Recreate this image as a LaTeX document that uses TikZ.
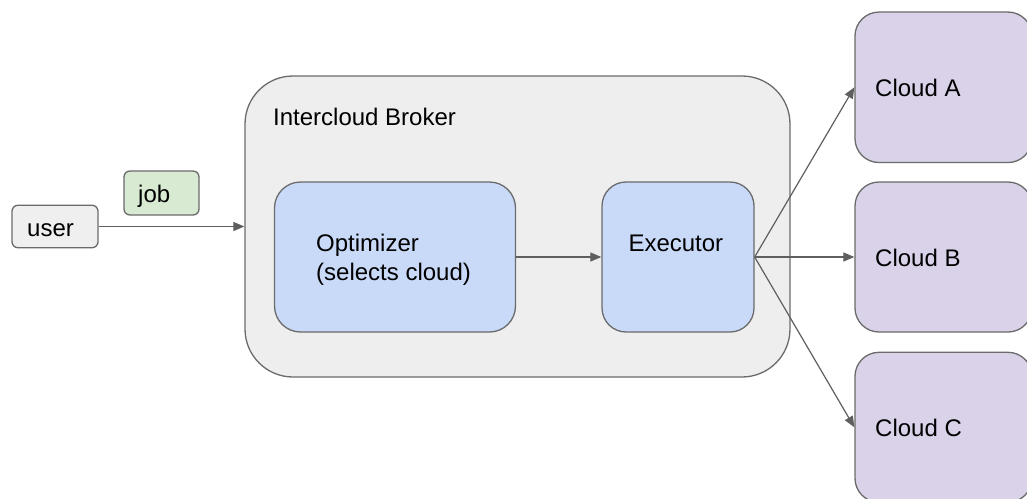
\documentclass[tikz,border=0pt]{standalone}
\usepackage{fontspec}
\setmainfont{Liberation Sans}
\usetikzlibrary{arrows.meta}
\definecolor{strokegray}{HTML}{6B6B6B}
\definecolor{linegray}{HTML}{5F5F5F}
\definecolor{userfill}{HTML}{EFEFEF}
\definecolor{jobfill}{HTML}{D9EAD3}
\definecolor{brokerfill}{HTML}{EEEEEE}
\definecolor{bluefill}{HTML}{C9DAF8}
\definecolor{purplefill}{HTML}{D9D2E9}
\tikzset{
  box/.style={draw=strokegray, line width=1.3pt, rectangle, inner sep=0pt},
  txt/.style={inner sep=0pt, anchor=base west, font=\fontsize{24}{29}\selectfont, text=black},
  arr/.style={draw=linegray, line width=1.2pt, -{Triangle[length=11pt,width=9pt]}}
}
\begin{document}
\begin{tikzpicture}[x=1pt,y=-1pt]
\clip (0,0) rectangle (1027,498);
\fill[white] (0,0) rectangle (1027,498);
% boxes
\node[box, fill=userfill, rounded corners=6pt, minimum width=86pt, minimum height=42.5pt] (user) at (55,226.5) {};
\node[box, fill=jobfill, rounded corners=6pt, minimum width=75pt, minimum height=44pt] (job) at (161.5,193) {};
\node[box, fill=brokerfill, rounded corners=48pt, minimum width=545pt, minimum height=301pt] (broker) at (517.5,226.5) {};
\node[box, fill=bluefill, rounded corners=26pt, minimum width=241pt, minimum height=150pt] (opt) at (395,257) {};
\node[box, fill=bluefill, rounded corners=24pt, minimum width=152pt, minimum height=150pt] (exec) at (678,257) {};
\node[box, fill=purplefill, rounded corners=24pt, minimum width=177pt, minimum height=150.5pt] (cloudA) at (943.5,87.3) {};
\node[box, fill=purplefill, rounded corners=24pt, minimum width=177pt, minimum height=150pt] (cloudB) at (943.5,257) {};
\node[box, fill=purplefill, rounded corners=24pt, minimum width=177pt, minimum height=150pt] (cloudC) at (943.5,427.3) {};
% texts
\node[txt] (usertext) at (27,236) {user};
\node[txt] (jobtext) at (138,202.5) {job};
\node[txt] (brokertext) at (273,125) {Intercloud Broker};
\node[txt] (opttext1) at (316,251) {Optimizer};
\node[txt] (opttext2) at (316,280) {(selects cloud)};
\node[txt] (exectext) at (628.3,251) {Executor};
\node[txt] (cloudAtext) at (875,96.5) {Cloud A};
\node[txt] (cloudBtext) at (875,266) {Cloud B};
\node[txt] (cloudCtext) at (875,436.5) {Cloud C};
% connectors
\draw[arr] (user.east) -- (broker.west);
\draw[arr] (opt.east) -- (exec.west);
\draw[arr] (exec.east) -- (cloudA.west);
\draw[arr] (exec.east) -- (cloudB.west);
\draw[arr] (exec.east) -- (cloudC.west);
\end{tikzpicture}
\end{document}
